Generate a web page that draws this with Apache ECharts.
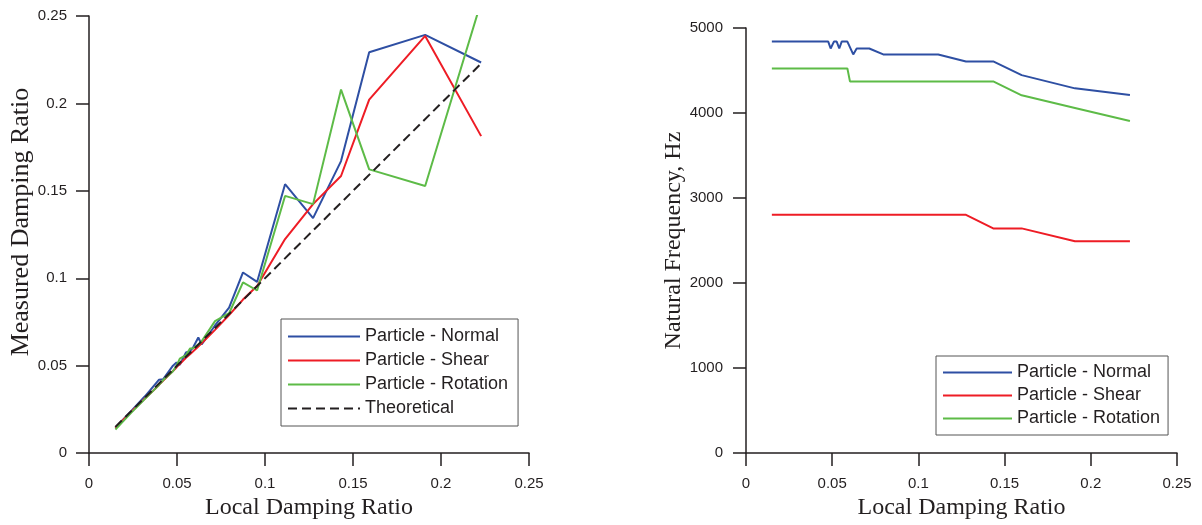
<!DOCTYPE html>
<html>
<head>
<meta charset="utf-8">
<script src="https://cdn.jsdelivr.net/npm/echarts@6/dist/echarts.min.js"></script>
<style>
  html, body { margin: 0; padding: 0; background: #ffffff; }
  #chart { width: 1202px; height: 525px; }
</style>
</head>
<body>
<div id="chart"></div>
<script>
// Left panel: measured vs local damping ratio
const dampingX        = [0.015, 0.0239, 0.0318, 0.0398, 0.0422, 0.0477, 0.0497, 0.0516, 0.0551, 0.0574, 0.0592, 0.0621, 0.0640, 0.0716, 0.0796, 0.0875, 0.0955, 0.1114, 0.1273, 0.1432, 0.1592, 0.1910, 0.2228];
const measuredNormal  = [0.0145, 0.0240, 0.0325, 0.0420, 0.0423, 0.0500, 0.0518, 0.0505, 0.0575, 0.0583, 0.0605, 0.0661, 0.0621, 0.0730, 0.0832, 0.1033, 0.0979, 0.1538, 0.1344, 0.1670, 0.2293, 0.2392, 0.2234];
const measuredShear   = [0.0145, 0.0235, 0.0312, 0.0390, 0.0415, 0.0470, 0.0490, 0.0510, 0.0545, 0.0565, 0.0582, 0.0610, 0.0628, 0.0705, 0.0790, 0.0878, 0.0956, 0.1224, 0.1424, 0.1585, 0.2022, 0.2386, 0.1813];
const measuredRotation= [0.0135, 0.0230, 0.0310, 0.0390, 0.0418, 0.0468, 0.0500, 0.0540, 0.0560, 0.0598, 0.0600, 0.0620, 0.0640, 0.0755, 0.0800, 0.0976, 0.0930, 0.1471, 0.1424, 0.2079, 0.1623, 0.1528, 0.2581];
const theoreticalX    = [0.015, 0.2228];
const theoreticalY    = [0.015, 0.2228];

// Right panel: natural frequency vs local damping ratio
const normalX   = [0.015, 0.0477, 0.0491, 0.0510, 0.0526, 0.0541, 0.0555, 0.0588, 0.0622, 0.0642, 0.0715, 0.0796, 0.1115, 0.1276, 0.1434, 0.1599, 0.1908, 0.2227];
const normalHz  = [4840, 4840, 4759, 4840, 4840, 4759, 4840, 4840, 4689, 4759, 4759, 4689, 4689, 4607, 4607, 4446, 4290, 4211];
const shearX    = [0.015, 0.1276, 0.1434, 0.1599, 0.1908, 0.2227];
const shearHz   = [2803, 2803, 2643, 2643, 2491, 2491];
const rotationX = [0.015, 0.0588, 0.0603, 0.1434, 0.1599, 0.1908, 0.2227];
const rotationHz= [4525, 4525, 4372, 4372, 4208, 4060, 3906];

// Axis ticks
const dampingTicks = { min: 0, max: 0.25, interval: 0.05 };
const freqTicks    = { min: 0, max: 5000, interval: 1000 };

const NAME_NORMAL = 'Particle - Normal';
const NAME_SHEAR = 'Particle - Shear';
const NAME_ROT = 'Particle - Rotation';
const NAME_THEO = 'Theoretical';

const INK = '#231f20';
const BLUE = '#2e4fa3';
const RED = '#ee1c25';
const GREEN = '#5dbb47';

const pairs = (xs, ys) => xs.map((x, i) => [x, ys[i]]);

function axis(opts) {
  return Object.assign({
    type: 'value',
    nameLocation: 'middle',
    nameTextStyle: { fontFamily: 'Liberation Serif', fontSize: 24, color: INK },
    axisLine: { show: true, onZero: false, lineStyle: { color: INK, width: 1.5 } },
    axisTick: { show: true, inside: false, length: 13, lineStyle: { color: INK, width: 1.5 } },
    axisLabel: { fontFamily: 'Liberation Sans', fontSize: 15, color: INK, formatter: v => String(v) },
    splitLine: { show: false }
  }, opts);
}

function tickLabels(margin) {
  return { fontFamily: 'Liberation Sans', fontSize: 15, color: INK, margin: margin, formatter: v => String(v) };
}

function lineSeries(name, data, color, xi, extra) {
  return Object.assign({
    type: 'line',
    name: name,
    xAxisIndex: xi,
    yAxisIndex: xi,
    data: data,
    symbol: 'none',
    lineStyle: { color: color, width: 2 },
    itemStyle: { color: color },
    z: 3
  }, extra || {});
}

const legendText = { fontFamily: 'Liberation Sans', fontSize: 18, lineHeight: 19, color: INK };

function legendBox(names, left, top, padding, gap, width) {
  return {
    data: names,
    orient: 'vertical',
    left: left, top: top,
    padding: padding,
    itemGap: gap,
    itemWidth: width,
    itemHeight: 2,
    itemStyle: { opacity: 0 },
    borderColor: '#555',
    borderWidth: 1,
    backgroundColor: '#ffffff',
    textStyle: legendText
  };
}

const option = {
  animation: false,
  backgroundColor: '#ffffff',
  grid: [
    { left: 89, right: 673, top: 16, bottom: 70 },
    { left: 746, right: 25, top: 28, bottom: 70 }
  ],
  xAxis: [
    axis(Object.assign({ gridIndex: 0, name: 'Local Damping Ratio', nameGap: 34, axisLabel: tickLabels(23) }, dampingTicks)),
    axis(Object.assign({ gridIndex: 1, name: 'Local Damping Ratio', nameGap: 34, axisLabel: tickLabels(23) }, dampingTicks))
  ],
  yAxis: [
    axis(Object.assign({ gridIndex: 0, name: 'Measured Damping Ratio', nameGap: 51,
      nameTextStyle: { fontFamily: 'Liberation Serif', fontSize: 26, color: INK, padding: [0, 0, 0, 25] },
      axisLabel: tickLabels(22) }, dampingTicks)),
    axis(Object.assign({ gridIndex: 1, name: 'Natural Frequency, Hz', nameGap: 57, axisLabel: tickLabels(23) }, freqTicks))
  ],
  legend: [
    legendBox([NAME_NORMAL, NAME_SHEAR, NAME_ROT, NAME_THEO], 281, 319, [8, 10, 8, 6], 5, 72),
    legendBox([NAME_NORMAL, NAME_SHEAR, NAME_ROT], 936, 356, [7, 8, 7, 6], 4, 69)
  ],
  series: [
    lineSeries(NAME_NORMAL, pairs(dampingX, measuredNormal), BLUE, 0),
    lineSeries(NAME_SHEAR, pairs(dampingX, measuredShear), RED, 0),
    lineSeries(NAME_ROT, pairs(dampingX, measuredRotation), GREEN, 0),
    lineSeries(NAME_THEO, pairs(theoreticalX, theoreticalY), INK, 0,
      { lineStyle: { color: INK, width: 2, type: [9, 5] }, z: 4 }),
    lineSeries(NAME_NORMAL, pairs(normalX, normalHz), BLUE, 1),
    lineSeries(NAME_SHEAR, pairs(shearX, shearHz), RED, 1),
    lineSeries(NAME_ROT, pairs(rotationX, rotationHz), GREEN, 1)
  ]
};

const chart = echarts.init(document.getElementById('chart'), null, { renderer: 'canvas' });
chart.setOption(option);
</script>
</body>
</html>
